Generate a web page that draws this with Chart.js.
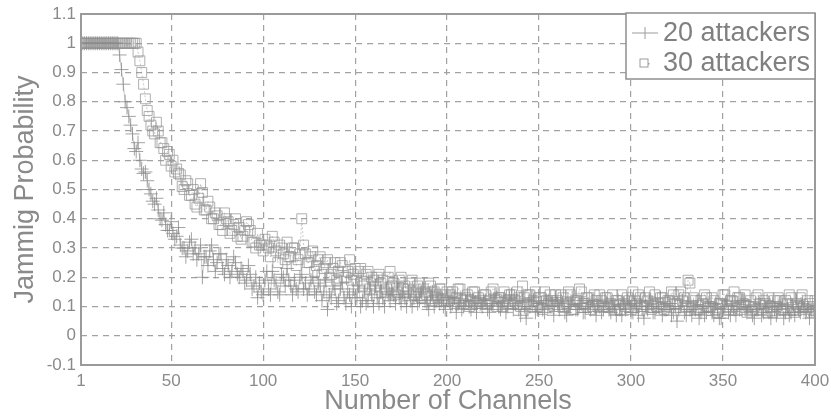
<!DOCTYPE html>
<html><head><meta charset="utf-8">
<script src="https://cdn.jsdelivr.net/npm/chart.js@4"></script>
<style>html,body{margin:0;padding:0;background:#fff;}#wrap{width:831px;height:418px;}</style>
</head><body><div id="wrap"><canvas id="c" width="831" height="418"></canvas></div>
<script>
const channels = [
1,2,3,4,5,6,7,8,9,10,11,12,13,14,15,16,17,18,19,20,
21,22,23,24,25,26,27,28,29,30,31,32,33,34,35,36,37,38,39,40,
41,42,43,44,45,46,47,48,49,50,51,52,53,54,55,56,57,58,59,60,
61,62,63,64,65,66,67,68,69,70,71,72,73,74,75,76,77,78,79,80,
81,82,83,84,85,86,87,88,89,90,91,92,93,94,95,96,97,98,99,100,
101,102,103,104,105,106,107,108,109,110,111,112,113,114,115,116,117,118,119,120,
121,122,123,124,125,126,127,128,129,130,131,132,133,134,135,136,137,138,139,140,
141,142,143,144,145,146,147,148,149,150,151,152,153,154,155,156,157,158,159,160,
161,162,163,164,165,166,167,168,169,170,171,172,173,174,175,176,177,178,179,180,
181,182,183,184,185,186,187,188,189,190,191,192,193,194,195,196,197,198,199,200,
201,202,203,204,205,206,207,208,209,210,211,212,213,214,215,216,217,218,219,220,
221,222,223,224,225,226,227,228,229,230,231,232,233,234,235,236,237,238,239,240,
241,242,243,244,245,246,247,248,249,250,251,252,253,254,255,256,257,258,259,260,
261,262,263,264,265,266,267,268,269,270,271,272,273,274,275,276,277,278,279,280,
281,282,283,284,285,286,287,288,289,290,291,292,293,294,295,296,297,298,299,300,
301,302,303,304,305,306,307,308,309,310,311,312,313,314,315,316,317,318,319,320,
321,322,323,324,325,326,327,328,329,330,331,332,333,334,335,336,337,338,339,340,
341,342,343,344,345,346,347,348,349,350,351,352,353,354,355,356,357,358,359,360,
361,362,363,364,365,366,367,368,369,370,371,372,373,374,375,376,377,378,379,380,
381,382,383,384,385,386,387,388,389,390,391,392,393,394,395,396,397,398,399,400];
const attackers20 = [
1,1,1,1,1,1,1,1,1,1,1,1,1,1,1,1,1,1,1,1,
1,.96,.91,.86,.80,.78,.75,.72,.69,.64,.63,.66,.60,.57,.555,.56,.53,.50,.485,.46,
.45,.47,.43,.40,.395,.42,.38,.36,.36,.39,.35,.33,.34,.37,.31,.30,.30,.27,.29,.32,
.33,.28,.30,.26,.28,.31,.20,.27,.27,.24,.29,.31,.26,.22,.25,.28,.28,.23,.21,.26,
.24,.20,.22,.27,.25,.21,.20,.23,.22,.18,.19,.24,.21,.16,.17,.20,.13,.18,.15,.14,
.19,.22,.16,.14,.22,.19,.18,.15,.14,.21,.20,.17,.23,.19,.17,.14,.19,.16,.15,.20,
.21,.16,.18,.14,.16,.19,.20,.15,.14,.18,.17,.12,.15,.19,.09,.14,.13,.17,.16,.11,
.12,.16,.18,.13,.11,.15,.14,.10,.16,.13,.13,.17,.10,.12,.15,.11,.12,.16,.14,.10,
.17,.13,.11,.15,.13,.10,.16,.14,.12,.15,.14,.11,.18,.13,.11,.14,.13,.10,.15,.12,
.10,.13,.14,.11,.12,.15,.16,.12,.11,.09,.13,.15,.10,.12,.14,.11,.12,.10,.09,.13,
.13,.10,.11,.13,.08,.11,.12,.09,.10,.12,.14,.10,.09,.12,.11,.08,.13,.11,.10,.12,
.12,.09,.08,.11,.11,.14,.13,.10,.09,.11,.12,.08,.10,.13,.14,.09,.11,.12,.09,.07,
.12,.10,.06,.09,.10,.13,.12,.08,.09,.11,.11,.09,.08,.12,.12,.10,.10,.07,.13,.11,
.09,.12,.11,.08,.07,.10,.10,.13,.12,.09,.09,.11,.11,.08,.08,.12,.10,.09,.12,.10,
.07,.11,.10,.08,.09,.12,.11,.09,.08,.10,.10,.07,.12,.09,.07,.11,.09,.12,.11,.08,
.08,.11,.10,.07,.12,.09,.06,.10,.09,.12,.11,.08,.08,.10,.10,.13,.07,.09,.09,.11,
.11,.07,.08,.10,.05,.09,.10,.12,.08,.07,.11,.09,.07,.10,.09,.12,.06,.08,.10,.07,
.08,.10,.11,.08,.07,.11,.09,.06,.06,.09,.10,.12,.08,.07,.11,.09,.07,.10,.09,.12,
.12,.09,.08,.10,.10,.07,.06,.09,.09,.11,.07,.08,.10,.12,.08,.06,.11,.09,.07,.10,
.09,.11,.06,.08,.10,.07,.08,.10,.07,.12,.09,.08,.11,.09,.08,.10,.06,.09,.09,.07];
const attackers30 = [
1,1,1,1,1,1,1,1,1,1,1,1,1,1,1,1,1,1,1,1,
1,1,1,1,1,1,1,1,1,1,1,.97,.94,.90,.86,.81,.77,.75,.72,.70,
.69,.73,.70,.66,.66,.64,.60,.63,.62,.58,.60,.56,.57,.555,.55,.51,.50,.53,.52,.48,
.48,.50,.45,.44,.47,.52,.49,.43,.43,.46,.44,.40,.40,.42,.41,.38,.38,.36,.42,.40,
.39,.35,.36,.38,.40,.34,.37,.33,.34,.36,.39,.38,.36,.32,.32,.30,.35,.31,.31,.29,
.33,.31,.30,.27,.34,.32,.29,.25,.31,.30,.28,.26,.32,.27,.27,.30,.30,.24,.26,.28,
.40,.31,.28,.25,.25,.27,.29,.22,.24,.26,.27,.21,.23,.25,.26,.20,.21,.23,.25,.19,
.22,.25,.24,.20,.20,.22,.26,.19,.21,.23,.19,.22,.23,.17,.18,.21,.22,.16,.20,.19,
.17,.20,.21,.18,.19,.15,.16,.20,.22,.17,.18,.14,.15,.19,.20,.16,.17,.15,.16,.18,
.19,.14,.15,.17,.18,.13,.16,.15,.14,.18,.17,.12,.15,.14,.13,.16,.16,.12,.14,.15,
.12,.14,.15,.11,.13,.16,.16,.12,.11,.13,.14,.10,.12,.15,.15,.11,.13,.12,.11,.14,
.14,.11,.12,.15,.16,.12,.10,.13,.13,.10,.15,.12,.11,.14,.14,.11,.12,.15,.13,.10,
.17,.13,.11,.14,.14,.10,.12,.15,.10,.13,.13,.09,.15,.12,.11,.14,.12,.10,.14,.12,
.10,.14,.13,.10,.11,.15,.14,.09,.09,.12,.12,.16,.15,.11,.11,.13,.13,.09,.10,.14,
.12,.10,.14,.12,.10,.13,.13,.10,.11,.14,.09,.12,.12,.09,.14,.11,.10,.13,.12,.09,
.15,.12,.11,.14,.13,.10,.10,.13,.12,.15,.09,.11,.14,.10,.11,.13,.13,.09,.10,.12,
.12,.15,.14,.11,.11,.14,.15,.12,.13,.10,.19,.18,.10,.13,.12,.09,.09,.12,.11,.14,
.13,.10,.10,.13,.12,.09,.08,.11,.11,.14,.14,.10,.09,.12,.12,.15,.10,.13,.13,.09,
.11,.14,.08,.10,.12,.09,.10,.13,.14,.11,.09,.12,.11,.08,.13,.10,.08,.12,.10,.13,
.12,.09,.09,.12,.11,.14,.13,.09,.08,.11,.10,.13,.14,.10,.09,.12,.11,.08,.10,.12];
const xTicks = [1,50,100,150,200,250,300,350,400];
const yTicks = [-0.1,0,0.1,0.2,0.3,0.4,0.5,0.6,0.7,0.8,0.9,1,1.1];
const seriesNames = ['20 attackers','30 attackers'];
const xTitle = 'Number of Channels';
const yTitle = 'Jammig Probability';

const FONT = '"Liberation Sans", Arial, sans-serif';
const TXT = '#8a8a8a';

const framePlugin = {
  id: 'frame',
  afterDatasetsDraw(chart) {
    const {ctx, chartArea: a} = chart;
    ctx.save();
    ctx.setLineDash([]);
    ctx.strokeStyle = '#9a9a9a';
    ctx.lineWidth = 2;
    ctx.strokeRect(a.left, a.top, a.right - a.left, a.bottom - a.top);
    const w = 189, h = 66;
    const lx = a.right - w, ly = a.top - 1;
    ctx.fillStyle = '#fff';
    ctx.fillRect(lx, ly, w, h);
    ctx.lineWidth = 1.5;
    ctx.strokeStyle = '#8f8f8f';
    ctx.strokeRect(lx, ly, w, h);
    ctx.font = '27px ' + FONT;
    ctx.textBaseline = 'middle';
    ctx.textAlign = 'left';
    chart.data.datasets.forEach((ds, i) => {
      const cy = ly + 20 + i * 30;
      const mx = lx + 19;
      ctx.strokeStyle = '#9c9c9c';
      ctx.lineWidth = 1;
      ctx.beginPath();
      if (i === 0) {
        ctx.moveTo(lx + 6, cy); ctx.lineTo(lx + 32, cy);
        ctx.moveTo(mx, cy - 6); ctx.lineTo(mx, cy + 6);
        ctx.stroke();
      } else {
        ctx.strokeRect(mx - 5, cy - 4, 8, 8);
        ctx.fillStyle = '#9c9c9c';
        ctx.fillRect(mx + 3, cy, 1.5, 1.5);
      }
      ctx.fillStyle = '#808080';
      ctx.fillText(ds.label, lx + 37, cy + 1);
    });
    ctx.restore();
  }
};

new Chart(document.getElementById('c'), {
  type: 'line',
  data: {
    datasets: [
      {
        label: seriesNames[0],
        data: channels.map((c, i) => ({x: c, y: attackers20[i]})),
        borderColor: 'rgba(150,150,150,0.5)',
        borderWidth: 1,
        pointStyle: 'cross',
        pointRadius: 7,
        pointBorderWidth: 1,
        pointBorderColor: 'rgba(140,140,140,0.8)',
        pointBackgroundColor: 'transparent',
        tension: 0
      },
      {
        label: seriesNames[1],
        data: channels.map((c, i) => ({x: c, y: attackers30[i]})),
        borderColor: 'rgba(150,150,150,0.5)',
        borderWidth: 1,
        borderDash: [2, 2],
        pointStyle: 'rect',
        pointRadius: 7,
        pointBorderWidth: 1,
        pointBorderColor: 'rgba(150,150,150,0.75)',
        pointBackgroundColor: 'transparent',
        tension: 0
      }
    ]
  },
  options: {
    responsive: false,
    animation: false,
    layout: {padding: {top: 14, right: 16, left: 0, bottom: 0}},
    plugins: {legend: {display: false}, tooltip: {enabled: false}},
    scales: {
      x: {
        type: 'linear',
        min: 1, max: 400,
        afterBuildTicks: s => { s.ticks = xTicks.map(v => ({value: v})); },
        afterFit: s => { s.height = 53; s.paddingLeft = 0; s.paddingRight = 0; },
        grid: {color: '#a2a2a2', lineWidth: 1.2, drawTicks: false},
        border: {display: false, dash: [6, 5]},
        ticks: {color: TXT, font: {family: FONT, size: 17}, padding: 6, maxRotation: 0, autoSkip: false,
          callback: v => String(v)},
        title: {display: true, text: xTitle, color: TXT, font: {family: FONT, size: 27}, padding: {top: 0, bottom: 0}}
      },
      y: {
        type: 'linear',
        min: -0.1, max: 1.1,
        afterBuildTicks: s => { s.ticks = yTicks.map(v => ({value: v})); },
        afterFit: s => { s.width = 81; s.paddingTop = 0; s.paddingBottom = 0; },
        grid: {color: '#a2a2a2', lineWidth: 1.2, drawTicks: false},
        border: {display: false, dash: [6, 5]},
        ticks: {color: TXT, font: {family: FONT, size: 17}, padding: 5,
          callback: v => String(Math.round(v * 10) / 10)},
        title: {display: true, text: yTitle, color: TXT, font: {family: FONT, size: 27}, padding: {top: 9, bottom: 0}}
      }
    }
  },
  plugins: [framePlugin]
});
</script></body></html>
